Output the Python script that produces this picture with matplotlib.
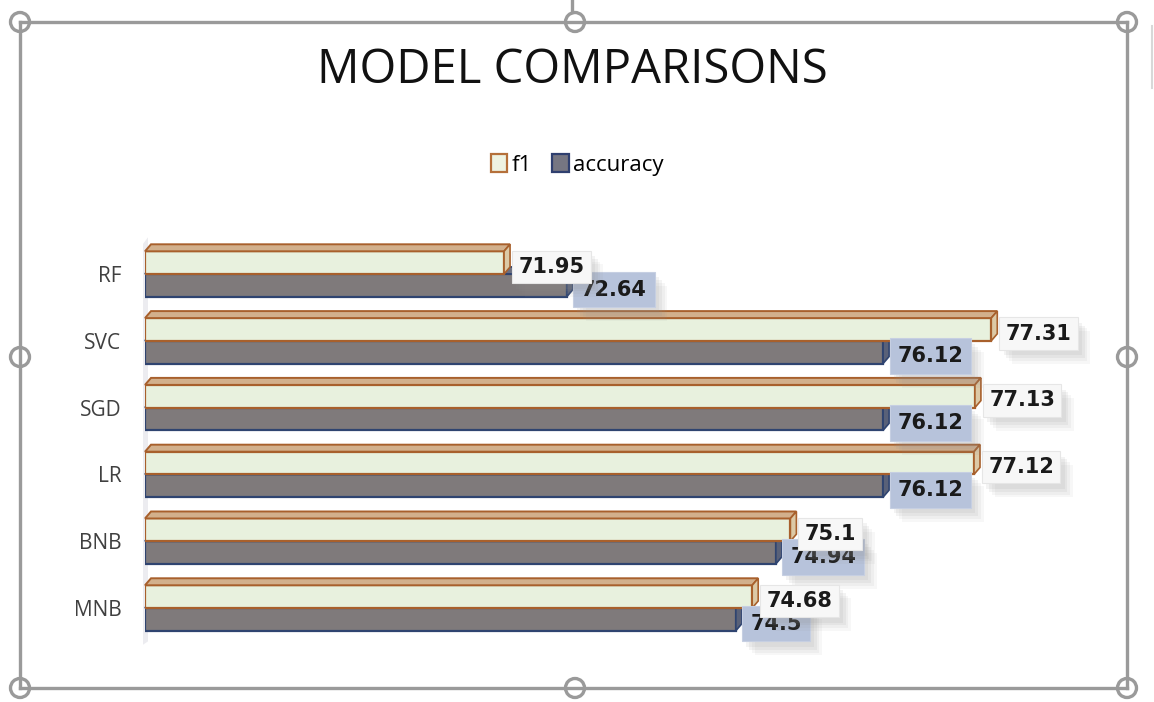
import numpy as np
import matplotlib
matplotlib.use("Agg")
import matplotlib.pyplot as plt
from matplotlib.patches import Polygon, Patch, Circle
from matplotlib.lines import Line2D
import matplotlib.patheffects as pe

# Data
models = ["RF", "SVC", "SGD", "LR", "BNB", "MNB"]
f1 = [71.95, 77.31, 77.13, 77.12, 75.1, 74.68]
accuracy = [72.64, 76.12, 76.12, 76.12, 74.94, 74.5]

X0, X1 = 68, 78
W, H = 1154, 702

fig = plt.figure(figsize=(W / 100, H / 100), dpi=100)
fig.patch.set_facecolor("white")

# axes placed in pixel terms
ax_l, ax_r, ax_t, ax_b = 145, 1054, 235, 645
ax = fig.add_axes([ax_l / W, (H - ax_b) / H, (ax_r - ax_l) / W, (ax_b - ax_t) / H])
ax.set_xlim(X0, X1)
ax.set_ylim(5.554, -0.584)
for s in ax.spines.values():
    s.set_visible(False)
ax.set_xticks([])
ax.set_yticks(range(len(models)))
ax.set_yticklabels(models, fontsize=15, color="#404040", family=["Open Sans", "DejaVu Sans"])
ax.tick_params(axis="y", length=0, pad=17)
ax.set_facecolor("none")

# depth of the 3D bars in data units
px_x = (X1 - X0) / (ax_r - ax_l)
px_y = 6.14 / (ax_b - ax_t)
dx, dy = 6 * px_x, 7 * px_y
h = 0.34

# faint back wall
ax.add_patch(Polygon([(X0 - 2 * px_x, -0.45), (X0 + 3 * px_x, -0.55),
                      (X0 + 3 * px_x, 5.5), (X0 - 2 * px_x, 5.55)],
                     closed=True, fc="#ececf0", ec="none", zorder=0, clip_on=False))


def bar3d(y, v, front, top, side, edge):
    ax.barh(y, v - X0, left=X0, height=h, color=front, edgecolor=edge, linewidth=1.6, zorder=3)
    yt, yb = y - h / 2, y + h / 2
    ax.add_patch(Polygon([(X0, yt), (v, yt), (v + dx, yt - dy), (X0 + dx, yt - dy)],
                         closed=True, fc=top, ec=edge, lw=1.4, zorder=3, clip_on=False))
    ax.add_patch(Polygon([(v, yt), (v + dx, yt - dy), (v + dx, yb - dy), (v, yb)],
                         closed=True, fc=side, ec=edge, lw=1.2, zorder=3, clip_on=False))


def label(y, v, txt, fc, ec, pad):
    t = ax.annotate(txt, (v + dx, y), xytext=(6, -3), textcoords="offset points",
                    ha="left", va="center", fontsize=15, fontweight="bold", color="#1a1a1a",
                    zorder=6, annotation_clip=False,
                    bbox=dict(boxstyle=f"square,pad={pad}", fc=fc, ec=ec, lw=0.8))
    # soft shadow built from a few faint offset copies
    t.get_bbox_patch().set_path_effects([
        pe.SimplePatchShadow(offset=(9, -10), shadow_rgbFace="#909090", alpha=0.07),
        pe.SimplePatchShadow(offset=(7, -8), shadow_rgbFace="#909090", alpha=0.08),
        pe.SimplePatchShadow(offset=(5, -6), shadow_rgbFace="#909090", alpha=0.10),
        pe.SimplePatchShadow(offset=(3, -4), shadow_rgbFace="#909090", alpha=0.10),
        pe.Normal()])


for i in range(len(models)):
    ya, yf = i + 0.17, i - 0.17
    bar3d(ya, accuracy[i], "#7f7a7b", "#6a6e80", "#596178", "#2f4470")
    bar3d(yf, f1[i], "#e8f1de", "#d2b08c", "#dcc9a6", "#a8602c")

for i in range(len(models)):
    label(i + 0.17, accuracy[i], f"{accuracy[i]:g}", "#b7c3db", "#c6cfe2", 0.38)
    label(i - 0.17, f1[i], f"{f1[i]:g}", "#f7f7f7", "#e6e6e6", 0.3)

# title and legend
fig.text(572 / W, 1 - 70 / H, "MODEL COMPARISONS", ha="center", va="center",
         fontsize=34, color="#111111", family=["Open Sans", "DejaVu Sans"])
handles = [Patch(fc="#eef3e2", ec="#b5703a", lw=1.6, label="f1"),
           Patch(fc="#767682", ec="#2f3f6f", lw=1.6, label="accuracy")]
fig.legend(handles=handles, loc="center", bbox_to_anchor=(577 / W, 1 - 165 / H),
           ncol=2, frameon=False, handlelength=0.75, handleheight=0.85,
           handletextpad=0.2, columnspacing=0.9,
           prop={"family": ["Open Sans", "DejaVu Sans"], "size": 16})

# selection frame with handles (screenshot chrome)
gc = "#9a9a9a"
fl, fr, ft, fb = 20, 1127, 22, 688
for (xa, ya_), (xb, yb_) in [((fl, ft), (fr, ft)), ((fr, ft), (fr, fb)),
                             ((fr, fb), (fl, fb)), ((fl, fb), (fl, ft)),
                             ((572, 0), (572, 12))]:
    fig.add_artist(Line2D([xa / W, xb / W], [1 - ya_ / H, 1 - yb_ / H],
                          color=gc, lw=2.4, transform=fig.transFigure))
fig.add_artist(Line2D([1152 / W, 1152 / W], [1 - 26 / H, 1 - 88 / H],
                      color="#d8d8d8", lw=1.5, transform=fig.transFigure))
for hx, hy in [(fl, ft), (575, ft), (fr, ft), (fl, 357), (fr, 357),
               (fl, fb), (575, fb), (fr, fb)]:
    fig.add_artist(Circle((hx, H - hy), 9.5, transform=None, fc="white", ec=gc, lw=2.4))

fig.savefig("out.png", dpi=100, facecolor="white")
